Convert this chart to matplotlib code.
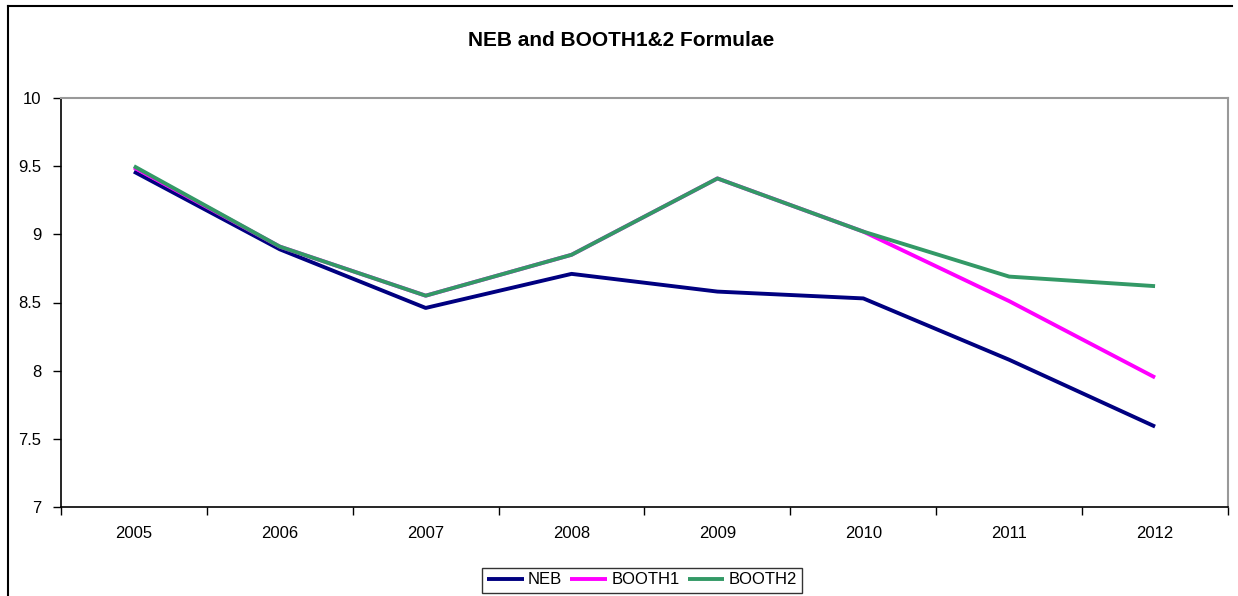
import matplotlib
matplotlib.use("Agg")
import matplotlib.pyplot as plt
from matplotlib.lines import Line2D

plt.rcParams['font.family'] = ['Liberation Sans', 'DejaVu Sans']

years = ['2005', '2006', '2007', '2008', '2009', '2010', '2011', '2012']
neb = [9.46, 8.89, 8.46, 8.71, 8.58, 8.53, 8.08, 7.59]
booth1 = [9.49, 8.91, 8.55, 8.85, 9.41, 9.02, 8.51, 7.95]
booth2 = [9.50, 8.91, 8.55, 8.85, 9.41, 9.02, 8.69, 8.62]

fig = plt.figure(figsize=(12.38, 5.96), dpi=100)
ax = fig.add_axes([61 / 1238, 89 / 596, 1167 / 1238, 409 / 596])

x = list(range(len(years)))
ax.plot(x, neb, color='#000080', lw=2.8, label='NEB', solid_capstyle='butt')
ax.plot(x, booth1, color='#FF00FF', lw=2.8, label='BOOTH1', solid_capstyle='butt')
ax.plot(x, booth2, color='#339966', lw=2.8, label='BOOTH2', solid_capstyle='butt')

ax.set_xlim(-0.5, len(years) - 0.5)
ax.set_ylim(7, 10)
ax.set_yticks([7, 7.5, 8, 8.5, 9, 9.5, 10])
ax.set_yticklabels(['7', '7.5', '8', '8.5', '9', '9.5', '10'], fontsize=12)

# category labels centred, tick marks on the boundaries
ax.set_xticks(x)
ax.set_xticklabels(years, fontsize=12)
ax.tick_params(axis='x', which='major', length=0, pad=14)
ax.set_xticks([i - 0.5 for i in range(len(years) + 1)], minor=True)
ax.tick_params(axis='x', which='minor', length=6, width=1, direction='out')
ax.tick_params(axis='y', length=6, width=1, direction='out', pad=8)

for side in ['top', 'right']:
    ax.spines[side].set_color('#999999')
    ax.spines[side].set_linewidth(1.5)
for side in ['left', 'bottom']:
    ax.spines[side].set_color('black')
    ax.spines[side].set_linewidth(1.2)

fig.text(621 / 1238, 1 - 40 / 596, 'NEB and BOOTH1&2 Formulae',
         ha='center', va='center', fontsize=15, fontweight='bold')

leg = fig.legend(loc='center', bbox_to_anchor=(642 / 1238, 1 - 580 / 596),
                 ncol=3, fontsize=12, frameon=True, fancybox=False,
                 handlelength=2.2, handletextpad=0.25, columnspacing=0.5,
                 borderpad=0.3, borderaxespad=0)
leg.get_frame().set_edgecolor('black')
leg.get_frame().set_linewidth(1)

# outer chart frame (runs off the right and bottom edges)
fig.add_artist(Line2D([8 / 1238, 8 / 1238], [0, 1 - 6 / 596],
                      transform=fig.transFigure, color='black', lw=1.5))
fig.add_artist(Line2D([8 / 1238, 1232 / 1238], [1 - 6 / 596, 1 - 6 / 596],
                      transform=fig.transFigure, color='black', lw=1.5))

fig.savefig('out.png', dpi=100)
